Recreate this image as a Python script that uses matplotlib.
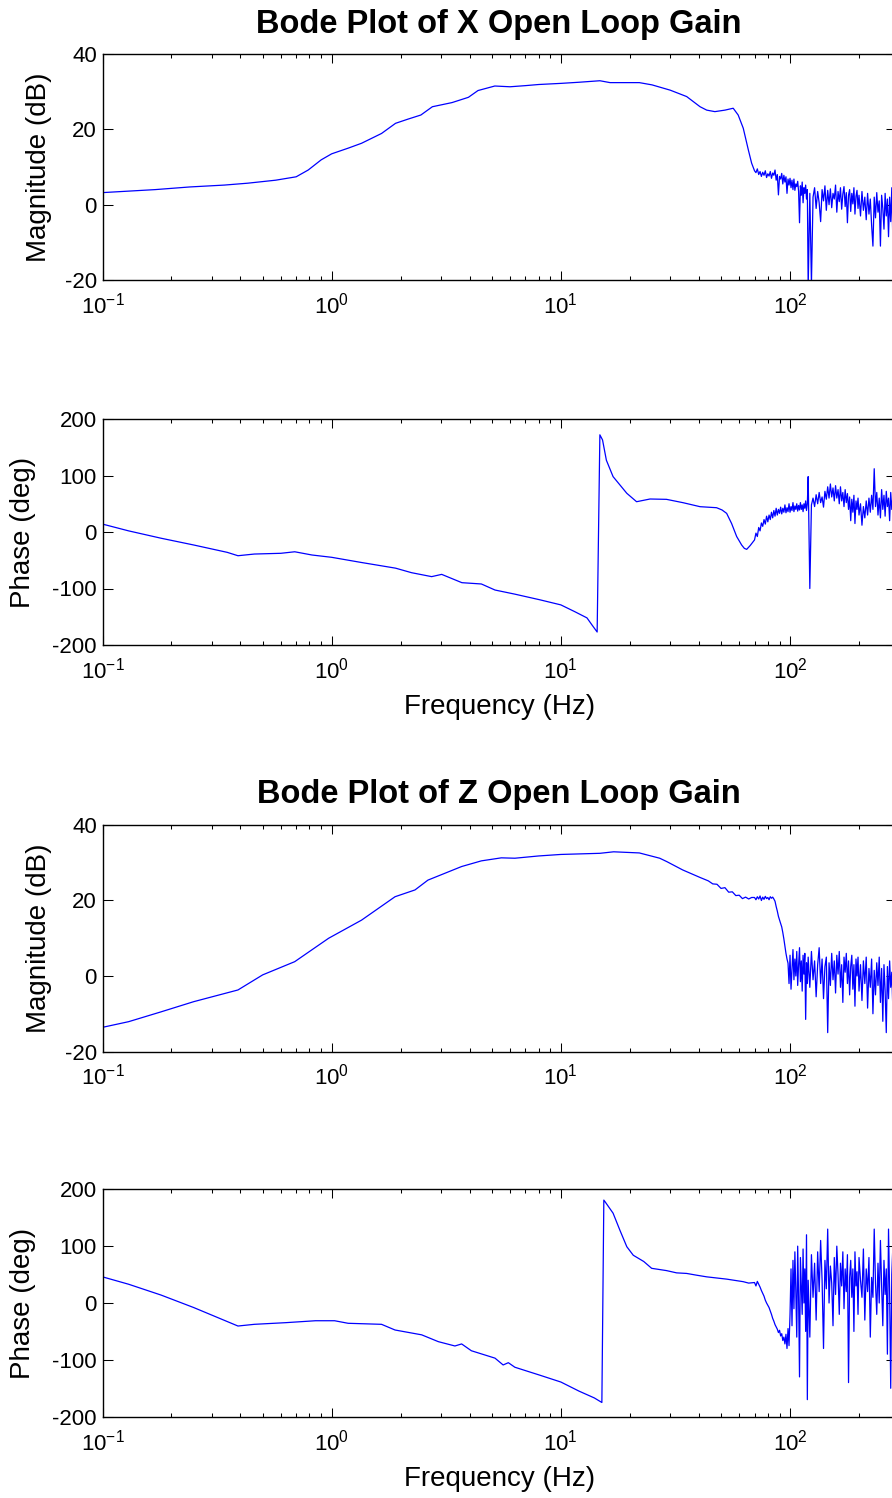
import numpy as np
import matplotlib
matplotlib.use('Agg')
import matplotlib.pyplot as plt
from matplotlib.ticker import LogLocator, NullFormatter, FixedLocator

plt.rcParams['font.family'] = ['Liberation Sans', 'DejaVu Sans']
plt.rcParams['mathtext.fontset'] = 'custom'
plt.rcParams['mathtext.rm'] = 'Liberation Sans'
plt.rcParams['mathtext.default'] = 'regular'
plt.rcParams['axes.unicode_minus'] = False

# ---------------- data ----------------
# shared high-frequency grid (Hz) for the noisy tail
freq_tail = [70, 71, 72, 73, 74, 75, 76, 77, 78, 79,
             80, 81, 82, 83, 84, 85, 86, 87, 88, 89,
             90, 91, 92, 93, 94, 95, 96, 97, 98, 99,
             100, 101, 102, 103, 104, 105, 106, 107, 108, 109,
             110, 111, 112, 113, 114, 115, 116, 117, 118, 119,
             120,
             122, 124, 126, 128, 130, 132, 134, 136, 138, 140,
             142, 144, 146, 148, 150, 152, 154, 156, 158, 160,
             162, 164, 166, 168, 170, 172, 174, 176, 178, 180,
             182, 184, 186, 188, 190, 192, 194, 196, 198, 200,
             203, 206, 209, 212, 215, 218, 221, 224, 227, 230,
             233, 236, 239, 242, 245, 248, 251, 254, 257, 260,
             263, 266, 269, 272, 275, 278, 281, 284, 287, 290]

# X axis: magnitude (dB)
freq_xm = [0.10, 0.17, 0.24, 0.34, 0.43, 0.57, 0.70, 0.79, 0.90, 1.00,
           1.18, 1.35, 1.65, 1.90, 2.15, 2.45, 2.75, 3.35, 3.95, 4.35,
           5.15, 6.0, 7.0, 8.0, 10.0, 12.0, 14.8, 16.4, 22.0, 25.0,
           30.0, 35.4, 40.5, 43.3, 47.0, 52.0, 56.5, 59.4, 62.5, 65.8, 68.0]
mag_x_lo = [3.2, 4.0, 4.7, 5.2, 5.7, 6.5, 7.4, 9.2, 11.9, 13.5,
            15.0, 16.3, 18.9, 21.6, 22.7, 23.8, 26.0, 27.1, 28.5, 30.3,
            31.5, 31.3, 31.6, 31.9, 32.2, 32.5, 32.9, 32.4, 32.4, 31.8,
            30.4, 28.7, 26.0, 25.1, 24.7, 25.1, 25.6, 23.8, 20.3, 14.5, 11.0]
mag_x_tail = [9.0, 8.5, 9.5, 8.0, 8.8, 7.5, 8.6, 7.8, 9.0, 7.2,
              8.2, 7.6, 8.8, 7.0, 8.4, 7.8, 9.2, 6.5, 8.0, 2.6,
              7.5, 6.8, 8.3, 5.5, 7.8, 6.0, 7.4, 3.0, 6.8, 5.2,
              7.0, 4.5, 6.5, 4.0, 6.8, 3.8, 5.5, 4.8, 6.2, 3.5,
              -4.8, 5.0, 2.5, 6.0, 0.5, 4.5, 3.0, 5.2, 1.5, 4.0,
              -22.0,
              3.0, -21.0, 2.0, 4.5, -1.0, 3.5, 0.5, -4.5, 4.0, 1.0,
              5.0, -1.5, 3.8, 0.0, 4.2, -0.8, 3.0, 1.5, 5.2, -2.0,
              3.5, 0.8, 4.5, -1.2, 2.8, 4.8, -0.5, 3.2, -4.8, 2.5,
              4.0, -1.8, 3.0, 0.2, 4.5, -2.5, 2.2, 3.8, -1.0, 2.5,
              -3.0, 3.5, -1.5, 2.0, -4.0, 3.0, -2.5, 1.5, -5.5, -11.0,
              2.0, -3.5, 3.2, -2.0, 1.0, -11.0, 2.5, -1.0, -6.5, 3.0,
              -3.0, 1.5, -8.5, 2.0, -4.5, 4.5, -10.0, 1.0, -5.0, 3.0]

# X axis: phase (deg)
freq_xp = [0.10, 0.13, 0.18, 0.25, 0.35, 0.39, 0.46, 0.60, 0.69, 0.82,
           1.00, 1.35, 1.90, 2.23, 2.73, 3.02, 3.70, 4.50, 5.16, 6.30,
           8.1, 10.0, 11.5, 13.0, 13.7, 14.4, 14.8, 15.2, 15.8, 16.9,
           19.4, 21.4, 24.5, 28.9, 34.2, 40.5, 47.8, 50.5, 52.9, 55.6,
           58.5, 61.5, 63.2, 64.7, 67.0]
phase_x_lo = [14, 2, -11, -23, -36, -42, -39, -37.7, -35, -40.7,
              -44.8, -54, -64, -72, -79, -75, -89.7, -92, -102.7, -110,
              -120, -129, -141, -152, -165, -177, 172, 163, 127, 98,
              68.5, 53.6, 58.4, 57.8, 51.8, 44.8, 43, 39, 33, 15,
              -8, -23, -29, -30.7, -24]
phase_x_tail = [-14, -2, -8, 8, 2, 16, 10, 22, 14, 28,
                18, 30, 22, 35, 25, 38, 28, 42, 30, 40,
                33, 44, 32, 42, 35, 48, 34, 43, 36, 50,
                35, 45, 38, 52, 36, 46, 40, 50, 37, 47,
                39, 52, 40, 48, 36, 50, 42, 55, 38, 50,
                98,
                -100, 48, 60, 45, 66, 50, 70, 52, 62, 44,
                72, 58, 80, 60, 85, 62, 78, 55, 82, 60,
                75, 50, 80, 55, 70, 45, 75, 52, 68, 40,
                62, 20, 58, 35, 65, 15, 55, 40, 60, 30,
                50, 12, 45, 25, 55, 30, 60, 35, 65, 40,
                112, 45, 70, 30, 60, 25, 75, 40, 65, 28,
                72, 45, 60, 20, 70, 40, 62, 25, 68, 45]

# Z axis: magnitude (dB)
freq_zm = [0.10, 0.13, 0.18, 0.25, 0.39, 0.50, 0.69, 0.97, 1.35, 1.89,
           2.31, 2.63, 3.69, 4.50, 5.50, 6.30, 8.0, 10.0, 14.8, 17.0,
           22.0, 27.0, 29.0, 34.0, 40.5, 44.0, 46.0, 48.0, 50.0, 52.0,
           54.0, 56.0, 58.0, 60.0, 62.0, 64.0, 66.0, 68.0]
mag_z_lo = [-13.6, -12.1, -9.5, -6.8, -3.7, 0.3, 3.8, 10.0, 14.8, 21.0,
            22.8, 25.4, 29.0, 30.5, 31.3, 31.2, 31.8, 32.2, 32.5, 32.9,
            32.6, 31.2, 30.3, 28.1, 26.1, 25.2, 24.4, 24.3, 23.2, 23.4,
            22.2, 22.3, 21.3, 21.4, 20.5, 20.9, 20.4, 20.8]
mag_z_tail = [20.8, 20.2, 21.0, 20.4, 21.2, 20.0, 20.9, 20.3, 21.1, 20.5,
              20.8, 20.2, 21.0, 20.6, 20.9, 20.4, 19.8, 18.4, 17.2, 15.8,
              14.8, 13.9, 13.0, 11.5, 9.8, 7.8, 6.0, 4.5, 3.4, -2.0,
              5.5, -3.5, 2.0, 7.0, -1.0, 4.5, 0.0, 6.5, -2.5, 3.0,
              7.5, -1.5, 4.0, -4.0, 5.5, 0.5, 6.0, -11.5, 3.5, -2.0,
              5.0,
              -3.0, 6.5, -1.0, 4.0, -5.5, 3.0, 7.5, -2.0, 4.5, -6.0,
              2.5, 5.0, -15.0, 3.5, -2.5, 6.0, -1.0, 4.0, -4.5, 5.5,
              0.5, 6.5, -3.0, 3.0, -7.0, 5.0, 1.0, 6.0, -2.0, 4.0,
              -5.0, 2.5, 5.5, -3.5, 3.0, -8.0, 4.5, 0.0, 5.0, -4.0,
              3.0, -6.5, 4.0, -2.0, 5.0, -8.5, 2.0, -3.0, 4.5, -10.0,
              1.5, -5.0, 3.5, -2.5, 5.0, -7.0, 2.0, -12.0, 3.0, -4.0,
              -15.0, 2.5, -6.0, 4.0, -3.0, 1.0, -9.0, 5.5, -2.0, 3.0]

# Z axis: phase (deg)
freq_zp = [0.10, 0.13, 0.18, 0.25, 0.39, 0.46, 0.63, 0.85, 1.03, 1.18,
           1.65, 1.89, 2.47, 2.92, 3.45, 3.69, 4.07, 5.16, 5.60, 5.90,
           6.30, 8.1, 10.0, 12.0, 14.0, 15.1, 15.4, 15.6, 16.9, 18.1,
           19.4, 20.7, 23.0, 24.9, 28.9, 32.0, 35.4, 39.0, 43.3, 48.0,
           52.9, 57.0, 62.5, 66.0]
phase_z_lo = [46, 33, 14, -8, -40.5, -37.5, -34.6, -31.2, -31.2, -35.7,
              -37.5, -47.5, -56, -68, -75.6, -72, -84, -97, -109, -105,
              -113, -127, -139, -155, -167, -175, 181, 178, 158, 128,
              99, 84, 73, 61, 57, 53, 52, 49, 46, 44,
              42, 40, 37.5, 35]
phase_z_tail = [36, 30, 38, 33, 28, 22, 17, 12, 5, 0,
                -4, -8, -14, -20, -27, -32, -38, -42, -46, -52,
                -48, -58, -54, -66, -60, -72, -55, -80, -45, -75,
                -20, 60, -40, 75, -10, 90, 20, -60, 100, 10,
                -130, 80, 30, -20, 95, 0, 60, -50, 120, -170,
                40,
                -60, 85, 10, 70, -30, 90, 20, 110, 40, -80,
                75, 25, 130, 0, 65, 35, -40, 80, 15, 100,
                50, -20, 70, 30, 90, -10, 60, 20, 85, -140,
                45, 75, 10, 60, -50, 90, 30, 55, -20, 80,
                40, 10, 95, -30, 60, 20, 80, -60, 45, 10,
                130, 35, -20, 70, 0, 110, 30, -40, 75, 15,
                60, -90, 130, 20, -150, 50, 100, -30, 60, 10]

titles = ['Bode Plot of X Open Loop Gain', 'Bode Plot of Z Open Loop Gain']
mag_ticks = [-20, 0, 20, 40]
phase_ticks = [-200, -100, 0, 100, 200]

# ---------------- figure ----------------
W, H = 892, 1498
fig = plt.figure(figsize=(W / 100, H / 100), dpi=100)
LEFT, RIGHT = 102.5, 896.0

def make_axes(top, bottom):
    return fig.add_axes([LEFT / W, 1 - bottom / H, (RIGHT - LEFT) / W, (bottom - top) / H])

def style(ax, yticks, ylabel, label_x):
    ax.set_xscale('log')
    ax.set_xlim(0.1, 290)
    ax.set_ylim(yticks[0], yticks[-1])
    ax.yaxis.set_major_locator(FixedLocator(yticks))
    ax.xaxis.set_major_locator(LogLocator(base=10, numticks=10))
    ax.xaxis.set_minor_locator(LogLocator(base=10, subs=np.arange(2, 10), numticks=30))
    ax.xaxis.set_minor_formatter(NullFormatter())
    ax.tick_params(which='both', direction='in', top=True, right=True,
                   width=0.75, colors='black', labelsize=16)
    ax.tick_params(axis='x', which='major', length=6.5, pad=9)
    ax.tick_params(axis='x', which='minor', length=3.2)
    ax.tick_params(axis='y', which='major', length=7, pad=4)
    for s in ax.spines.values():
        s.set_linewidth(1.0)
    ax.set_ylabel(ylabel, fontsize=20, va='center')
    ax.yaxis.set_label_coords(label_x, 0.5)

def xlabel(ax):
    ax.set_xlabel('Frequency (Hz)', fontsize=20, va='baseline')
    ax.xaxis.set_label_coords(0.5, -69 / 226)

blue = '#0000ff'

ax1 = make_axes(54, 280)
ax1.plot(freq_xm + freq_tail, mag_x_lo + mag_x_tail, color=blue, lw=0.9)
style(ax1, mag_ticks, 'Magnitude (dB)', -0.080)
ax1.text(0.5, 1 + 21 / 226, titles[0], transform=ax1.transAxes, ha='center',
         va='baseline', fontsize=23.5, fontweight='bold')

ax2 = make_axes(419, 645)
ax2.plot(freq_xp + freq_tail, phase_x_lo + phase_x_tail, color=blue, lw=0.9)
style(ax2, phase_ticks, 'Phase (deg)', -0.1008)
xlabel(ax2)

ax3 = make_axes(825, 1051.5)
ax3.plot(freq_zm + freq_tail, mag_z_lo + mag_z_tail, color=blue, lw=0.9)
style(ax3, mag_ticks, 'Magnitude (dB)', -0.080)
ax3.text(0.5, 1 + 22 / 226.5, titles[1], transform=ax3.transAxes, ha='center',
         va='baseline', fontsize=23.5, fontweight='bold')

ax4 = make_axes(1189.3, 1416.7)
ax4.plot(freq_zp + freq_tail, phase_z_lo + phase_z_tail, color=blue, lw=0.9)
style(ax4, phase_ticks, 'Phase (deg)', -0.1008)
xlabel(ax4)

fig.savefig('out.png', dpi=100)
